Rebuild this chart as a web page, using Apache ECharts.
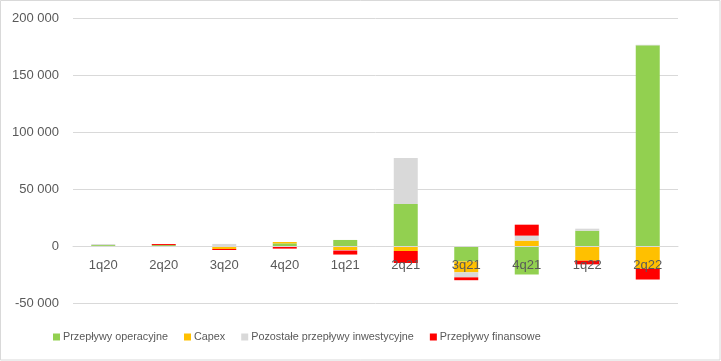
<!DOCTYPE html>
<html>
<head>
<meta charset="utf-8">
<script src="https://cdn.jsdelivr.net/npm/echarts@6/dist/echarts.min.js"></script>
<style>
html,body{margin:0;padding:0;background:#fff;}
#main{width:721px;height:361px;}
</style>
</head>
<body>
<div id="main"></div>
<script>
const categories = ['1q20','2q20','3q20','4q20','1q21','2q21','3q21','4q21','1q22','2q22'];
const seriesNames = ['Przepływy operacyjne','Capex','Pozostałe przepływy inwestycyjne','Przepływy finansowe'];
const operacyjne = [800, 800, 0, 2300, 5300, 36800, -13500, -25000, 13400, 176000];
const capex = [0, 0, -2600, 1200, -3500, -4400, -9600, 4700, -12900, -20000];
const pozostale = [900, -900, 1800, -300, -500, 40300, -4400, 4400, 1800, 500];
const finansowe = [-900, 900, -900, -2000, -3500, -10500, -2500, 9600, -3200, -9400];
const yTicks = {min: -50000, max: 200000, interval: 50000};
const colors = ['#92D050', '#FFC000', '#D9D9D9', '#FF0000'];
const values = [operacyjne, capex, pozostale, finansowe];

const chart = echarts.init(document.getElementById('main'), null, {renderer: 'canvas'});
const font = 'Liberation Sans, Arial, sans-serif';
const option = {
  animation: false,
  backgroundColor: '#fff',
  color: colors,
  graphic: [{
    type: 'rect', silent: true,
    shape: {x: 0.5, y: 0.5, width: 719.5, height: 359.5},
    style: {fill: 'none', stroke: '#D9D9D9', lineWidth: 1}
  }],
  grid: {left: 73, right: 43, top: 18, bottom: 58, containLabel: false},
  legend: {
    data: seriesNames,
    left: 53, top: 331.5, padding: 0,
    icon: 'rect', itemWidth: 7, itemHeight: 7, itemGap: 16,
    textStyle: {color: '#595959', fontFamily: font, fontSize: 10.8, padding: [0, 0, 0, -2]}
  },
  xAxis: {
    type: 'category', data: categories, z: 10,
    axisLine: {show: true, onZero: false, lineStyle: {color: '#D9D9D9'}},
    axisTick: {show: false},
    axisLabel: {color: '#595959', fontFamily: font, fontSize: 13, margin: 13}
  },
  yAxis: {
    type: 'value', min: yTicks.min, max: yTicks.max, interval: yTicks.interval,
    axisLine: {show: false}, axisTick: {show: false},
    splitLine: {lineStyle: {color: '#D9D9D9'}},
    axisLabel: {
      color: '#595959', fontFamily: font, fontSize: 13, margin: 14,
      formatter: v => {
        const s = Math.abs(v).toString().replace(/\B(?=(\d{3})+(?!\d))/g, ' ');
        return (v < 0 ? '-' : '') + s;
      }
    }
  },
  series: seriesNames.map((n, i) => ({
    name: n, type: 'bar', stack: 'total', barWidth: 24,
    data: values[i],
    itemStyle: {color: colors[i]}
  }))
};
chart.setOption(option);
// move the category axis onto the zero line
const zeroPx = chart.convertToPixel({yAxisIndex: 0}, 0);
const bottomPx = chart.convertToPixel({yAxisIndex: 0}, yTicks.min);
chart.setOption({xAxis: {offset: -(bottomPx - zeroPx)}});
</script>
</body>
</html>
